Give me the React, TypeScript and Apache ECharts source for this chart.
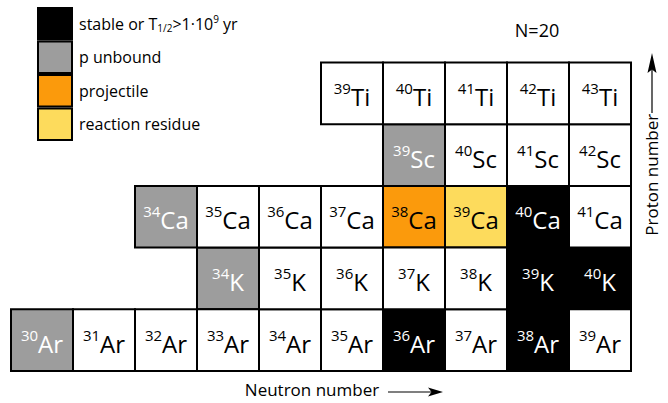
import React, { useEffect, useRef } from "react";
import * as echarts from "echarts";

const FONT = '"Open Sans", "Noto Sans", sans-serif';

// Chart of nuclides around N = 20
const elements = ["Ar", "K", "Ca", "Sc", "Ti"];
const protonNumbers = [18, 19, 20, 21, 22];
const firstMassNumbers = [30, 34, 34, 39, 39];
const lastMassNumbers = [39, 40, 41, 42, 43];

const stableNuclides = ["36Ar", "38Ar", "39K", "40K", "40Ca"];
const unboundNuclides = ["30Ar", "34K", "34Ca", "39Sc"];
const projectileNuclides = ["38Ca"];
const residueNuclides = ["39Ca"];

const categoryNames = ["stable", "p unbound", "projectile", "reaction residue", "other"];
const categoryLists = [stableNuclides, unboundNuclides, projectileNuclides, residueNuclides, []];
const categoryColors = ["#000000", "#9d9d9d", "#fb9a0c", "#fddb5c", "#ffffff"];
const categoryTextColors = ["#ffffff", "#ffffff", "#000000", "#000000", "#000000"];

const legendLabels: Record<string, string> = {
  stable: "stable or T{sub|1/2}>1·10{sup|9} yr",
  "p unbound": "p unbound",
  projectile: "projectile",
  "reaction residue": "reaction residue",
};

type Nuclide = { sym: string; Z: number; A: number; N: number; key: string };

function buildNuclides(): Nuclide[] {
  const out: Nuclide[] = [];
  elements.forEach((sym, i) => {
    const Z = protonNumbers[i];
    for (let A = firstMassNumbers[i]; A <= lastMassNumbers[i]; A++) {
      out.push({ sym, Z, A, N: A - Z, key: `${A}${sym}` });
    }
  });
  return out;
}

function categoryOf(key: string): number {
  for (let c = 0; c < 4; c++) if (categoryLists[c].includes(key)) return c;
  return 4;
}

export default function App() {
  const ref = useRef<HTMLDivElement>(null);

  useEffect(() => {
    if (!ref.current) return;
    const chart = echarts.init(ref.current, null, { renderer: "svg" });
    const nuclides = buildNuclides();

    const series = categoryNames.map((name, c) => {
      const list = nuclides.filter((n) => categoryOf(n.key) === c);
      const textColor = categoryTextColors[c];
      return {
        type: "custom",
        name,
        clip: false,
        itemStyle: { color: categoryColors[c] },
        data: list.map((n) => [n.N, n.Z, n.A]),
        renderItem: (params: any, api: any) => {
          const nuc = list[params.dataIndex];
          const N = api.value(0);
          const Z = api.value(1);
          const p0 = api.coord([N - 0.5, Z + 0.5]);
          const p1 = api.coord([N + 0.5, Z - 0.5]);
          const cx = (p0[0] + p1[0]) / 2;
          const cy = (p0[1] + p1[1]) / 2;
          return {
            type: "group",
            children: [
              {
                type: "rect",
                shape: { x: p0[0], y: p0[1], width: p1[0] - p0[0], height: p1[1] - p0[1] },
                style: { fill: api.visual("color"), stroke: "#000", lineWidth: 2 },
              },
              {
                type: "text",
                style: {
                  text: `{sup|${api.value(2)}}{el|${nuc.sym}}`,
                  x: cx,
                  y: cy + 3,
                  align: "center",
                  verticalAlign: "middle",
                  rich: {
                    sup: { fontSize: 15, fontFamily: FONT, fill: textColor, padding: [0, 0, 17, 0] },
                    el: { fontSize: 24, fontFamily: FONT, fill: textColor },
                  },
                },
              },
            ],
          };
        },
      };
    });

    const option: any = {
      animation: false,
      grid: { left: 11, right: 37, top: 62.5, bottom: 30.5 },
      xAxis: {
        type: "value",
        min: 11.5,
        max: 21.5,
        axisLine: { show: false },
        axisTick: { show: false },
        axisLabel: { show: false },
        splitLine: { show: false },
        name: "Neutron number",
        nameLocation: "middle",
        nameGap: 10,
        nameTextStyle: { fontSize: 17, fontFamily: FONT, color: "#000", padding: [0, 18, 0, 0] },
      },
      yAxis: {
        type: "value",
        position: "right",
        min: 17.5,
        max: 22.5,
        axisLine: { show: false },
        axisTick: { show: false },
        axisLabel: { show: false },
        splitLine: { show: false },
        name: "Proton number",
        nameLocation: "middle",
        nameGap: 12,
        nameTextStyle: { fontSize: 17, fontFamily: FONT, color: "#000", padding: [0, 0, 0, 84] },
      },
      legend: {
        orient: "vertical",
        left: 37,
        top: 7,
        padding: 0,
        itemGap: 0,
        itemWidth: 34,
        itemHeight: 31.5,
        icon: "rect",
        selectedMode: false,
        data: categoryNames.slice(0, 4),
        itemStyle: { borderColor: "#000", borderWidth: 2 },
        formatter: (name: string) => legendLabels[name] || name,
        textStyle: {
          fontSize: 16,
          fontFamily: FONT,
          color: "#000",
          padding: [0, 0, 0, 2],
          rich: {
            sub: { fontSize: 10, fontFamily: FONT, color: "#000", padding: [9, 0, 0, 0] },
            sup: { fontSize: 10, fontFamily: FONT, color: "#000", padding: [0, 0, 9, 0] },
          },
        },
      },
      graphic: [
        {
          type: "text",
          x: 537,
          y: 30,
          style: {
            text: "N=20",
            fontSize: 18,
            fontFamily: FONT,
            fill: "#000",
            align: "center",
            verticalAlign: "middle",
          },
        },
        // neutron arrow
        { type: "line", shape: { x1: 388, y1: 392, x2: 432, y2: 392 }, style: { stroke: "#000", lineWidth: 1.2 } },
        {
          type: "polygon",
          shape: { points: [[443, 392], [428, 387.5], [431.5, 392], [428, 396.5]] },
          style: { fill: "#000" },
        },
        // proton arrow
        { type: "line", shape: { x1: 652, y1: 113, x2: 652, y2: 68 }, style: { stroke: "#000", lineWidth: 1.2 } },
        {
          type: "polygon",
          shape: { points: [[652, 53], [647.5, 73], [652, 69.5], [656.5, 73]] },
          style: { fill: "#000" },
        },
      ],
      series,
    };

    chart.setOption(option);
    return () => chart.dispose();
  }, []);

  return (
    <div
      ref={ref}
      style={{ position: "absolute", left: 0, top: 0, width: 668, height: 403, background: "#fff" }}
    />
  );
}
